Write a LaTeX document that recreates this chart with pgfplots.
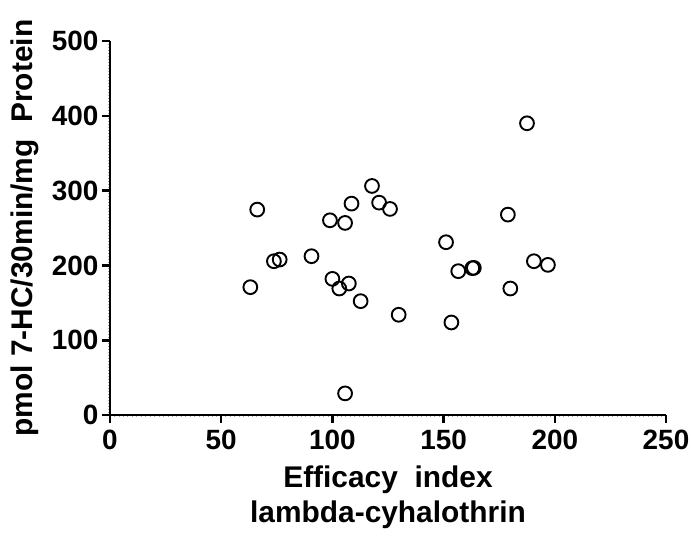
\documentclass[border=0pt]{standalone}
\usepackage{pgfplots}
\pgfplotsset{compat=1.18}
\usepackage{fontspec}
\setmainfont{Liberation Sans}
\begin{document}
\begin{tikzpicture}
\path[use as bounding box] (-110bp,-123bp) rectangle (581bp,415bp);
\begin{axis}[
  scale only axis,
  width=556bp, height=374bp,
  xmin=0, xmax=250, ymin=0, ymax=500,
  axis x line*=bottom, axis y line*=left,
  axis line style={line width=2.6bp},
  xtick={0,50,...,250}, ytick={0,100,...,500},
  minor x tick num=24, minor y tick num=24,
  tick align=outside,
  major tick length=8bp, minor tick length=1.6bp,
  major tick style={line width=2.6bp, black},
  minor tick style={line width=0.6bp, gray!70},
  tick label style={font=\fontsize{28}{30}\selectfont\bfseries},
  /pgf/number format/assume math mode=true,
  xticklabel shift=3bp,
  label style={font=\fontsize{30}{35}\selectfont\bfseries},
  xlabel={Efficacy\ \ index\\lambda-cyhalothrin},
  xlabel style={align=center},
  xlabel shift=10bp,
  ylabel={pmol 7-HC/30min/mg\ \ Protein},
  ylabel shift=6bp,
  clip=false,
]
\addplot[only marks, mark=o, mark size=6.9bp, mark options={line width=1.9bp, black}] table {
x y
63.1 170.9
66.2 274.6
73.7 205.6
76.3 207.8
90.6 212.3
98.9 260.3
100.0 182.0
103.1 169.1
105.7 256.8
107.4 175.8
108.6 282.6
105.7 28.9
112.7 152.2
117.8 306.2
121.0 283.9
125.9 275.5
129.8 134.0
151.1 231.0
153.5 123.7
156.6 192.3
162.9 196.3
163.6 196.7
178.9 267.9
180.0 169.1
190.6 205.6
196.9 200.7
187.5 390.0
};
\end{axis}
\end{tikzpicture}
\end{document}
